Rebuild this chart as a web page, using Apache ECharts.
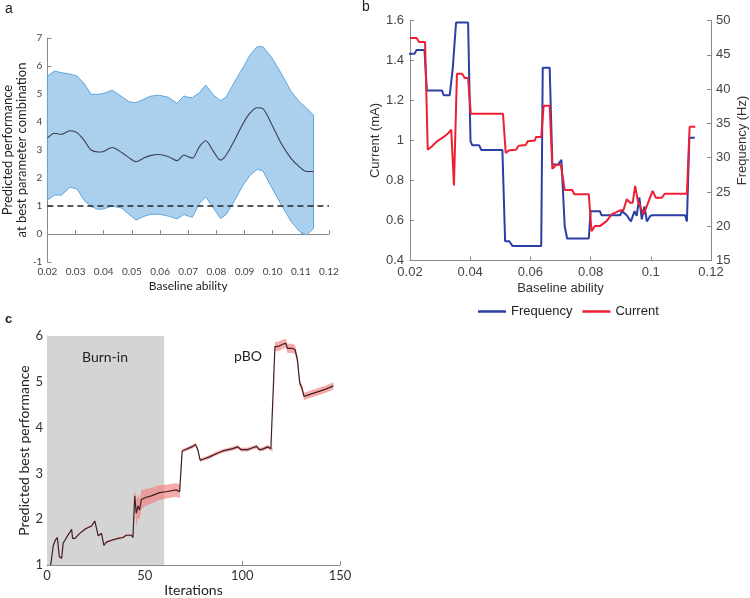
<!DOCTYPE html>
<html><head><meta charset="utf-8">
<script src="https://cdn.jsdelivr.net/npm/echarts@6/dist/echarts.min.js"></script>
<style>html,body{margin:0;padding:0;background:#fff}#c{width:750px;height:598px}</style>
</head><body><div id="c"></div>
<script>
// ---------- Panel a ----------
const aX = [0.0200,0.0225,0.0250,0.0280,0.0305,0.0330,0.0355,0.0380,0.0400,0.0430,0.0465,0.0490,0.0515,0.0540,0.0565,0.0595,0.0630,0.0660,0.0685,0.0700,0.0715,0.0740,0.0762,0.0790,0.0815,0.0835,0.0865,0.0895,0.0920,0.0945,0.0965,0.0995,0.1030,0.1065,0.1095,0.1120,0.1145];
const aMean = [3.42,3.60,3.56,3.69,3.62,3.35,3.00,2.93,2.95,3.09,2.90,2.72,2.58,2.70,2.80,2.84,2.76,2.62,2.82,2.76,2.71,3.12,3.33,2.94,2.64,2.82,3.36,3.95,4.33,4.51,4.48,3.95,3.24,2.70,2.40,2.23,2.23];
const aUpper = [5.64,5.82,5.76,5.71,5.64,5.38,4.99,4.99,5.02,5.14,4.90,4.72,4.69,4.80,4.92,4.96,4.88,4.67,4.93,4.88,4.87,5.05,5.32,4.96,4.76,4.90,5.44,5.95,6.40,6.69,6.69,6.33,5.74,5.10,4.72,4.50,4.25];
const aLower = [1.21,1.39,1.39,1.67,1.61,1.21,0.98,0.88,0.90,1.00,0.92,0.70,0.50,0.62,0.70,0.71,0.64,0.54,0.70,0.64,0.60,1.10,1.33,0.92,0.55,0.70,1.20,1.75,2.10,2.31,2.26,1.69,1.05,0.45,0.10,-0.04,0.20];
const aRefLine = [[0.02,1],[0.12,1]];

// ---------- Panel b ----------
const bFreqX = [0.0195,0.0215,0.0222,0.0248,0.0256,0.0306,0.0312,0.0332,0.0342,0.0353,0.0393,0.0401,0.0407,0.0430,0.0437,0.0507,0.0516,0.0530,0.0541,0.0636,0.0641,0.0664,0.0673,0.0692,0.0703,0.0708,0.0714,0.0722,0.0794,0.0800,0.0831,0.0836,0.0898,0.0904,0.0920,0.0934,0.0946,0.0953,0.0962,0.0970,0.0979,0.0987,0.0998,0.1005,0.1114,0.1120,0.1128,0.1146];
const bFreqY = [45.15,45.15,45.7,45.7,39.8,39.8,39.1,39.1,43.0,49.7,49.7,32.4,31.8,31.8,31.1,31.1,17.8,17.8,17.1,17.1,43.1,43.1,29.0,29.0,29.7,29.7,20.0,18.2,18.2,22.2,22.2,21.6,21.6,22.2,21.6,20.7,22.2,21.5,24.2,21.0,22.9,20.7,21.5,21.6,21.6,20.7,32.9,32.9];
const bCurX = [0.0200,0.0222,0.0230,0.0250,0.0259,0.0273,0.0290,0.0312,0.0328,0.0337,0.0346,0.0356,0.0373,0.0382,0.0393,0.0402,0.0509,0.0518,0.0530,0.0552,0.0561,0.0585,0.0591,0.0615,0.0619,0.0636,0.0644,0.0664,0.0673,0.0686,0.0701,0.0714,0.0739,0.0746,0.0794,0.0803,0.0814,0.0831,0.0853,0.0870,0.0898,0.0909,0.0920,0.0931,0.0940,0.0948,0.0957,0.0964,0.0976,0.0987,0.1006,0.1017,0.1037,0.1046,0.1120,0.1129,0.1148];
const bCurY = [1.512,1.512,1.492,1.492,0.954,0.971,0.996,1.018,1.038,1.054,0.775,1.334,1.334,1.312,1.312,1.134,1.134,0.938,0.951,0.954,0.974,0.978,0.996,1.000,1.018,1.018,1.174,1.174,0.858,0.879,0.879,0.753,0.753,0.731,0.731,0.547,0.572,0.572,0.597,0.631,0.651,0.651,0.706,0.689,0.689,0.773,0.698,0.673,0.631,0.673,0.748,0.714,0.714,0.734,0.734,1.069,1.069];

// ---------- Panel c ----------
const cIter = [1.9,3.2,4.1,5.3,6.3,7.5,8.3,10.0,11.5,12.6,13.1,14.3,16.8,19.4,21.1,22.8,24.5,26.2,27.9,29.1,30.4,33.0,36.4,38.9,40.6,43.2,44.0,44.9,45.7,46.6,47.4,48.3,50.8,53.4,57.6,61.0,66.1,67.9,69.2,70.4,74.7,76.0,77.2,78.4,80.6,83.2,86.6,90.0,95.1,97.6,99.3,102.7,105.3,107.3,108.7,110.4,113.0,114.6,115.5,116.7,118.9,120.6,122.3,123.1,125.7,127.0,128.2,129.4,130.4,131.6,134.2,139.3,142.7,146.6];
const cMean = [1.00,1.42,1.53,1.60,1.18,1.15,1.48,1.60,1.70,1.78,1.58,1.58,1.69,1.78,1.82,1.85,1.96,1.64,1.69,1.43,1.50,1.54,1.58,1.60,1.65,1.65,1.60,2.51,2.13,2.29,2.20,2.43,2.48,2.51,2.58,2.60,2.64,2.60,3.49,3.51,3.59,3.63,3.52,3.29,3.32,3.36,3.43,3.49,3.54,3.58,3.52,3.52,3.56,3.59,3.52,3.53,3.58,3.54,3.52,5.77,5.78,5.82,5.84,5.73,5.73,5.70,5.48,4.97,4.88,4.68,4.72,4.79,4.84,4.91];
const cErr  = [0.02,0.02,0.02,0.02,0.02,0.02,0.02,0.02,0.02,0.02,0.02,0.02,0.02,0.02,0.02,0.02,0.02,0.02,0.02,0.02,0.02,0.02,0.02,0.02,0.02,0.02,0.03,0.15,0.30,0.25,0.22,0.20,0.18,0.17,0.16,0.15,0.15,0.15,0.04,0.04,0.04,0.04,0.04,0.04,0.04,0.04,0.04,0.04,0.04,0.04,0.04,0.04,0.04,0.04,0.04,0.04,0.04,0.04,0.04,0.10,0.10,0.10,0.10,0.10,0.10,0.10,0.10,0.08,0.08,0.08,0.08,0.08,0.08,0.08];
const cBurnIn = [0, 60];

const pairs = (xs, ys) => xs.map((x, i) => [x, ys[i]]);

function bandSeries(xs, lo, hi, xi, yi, fill, stroke, z) {
  return {
    type: 'custom', xAxisIndex: xi, yAxisIndex: yi, z: z, silent: true,
    data: [[xs[0], lo[0]]],
    renderItem: function (params, api) {
      const pts = [];
      for (let i = 0; i < xs.length; i++) pts.push(api.coord([xs[i], hi[i]]));
      for (let i = xs.length - 1; i >= 0; i--) pts.push(api.coord([xs[i], lo[i]]));
      return { type: 'polygon', shape: { points: pts }, style: { fill: fill, stroke: stroke, lineWidth: stroke ? 1 : 0 } };
    }
  };
}

const cLo = cMean.map((m, i) => m - cErr[i]);
const cHi = cMean.map((m, i) => m + cErr[i]);

const fa = 'Lato', fb = 'Liberation Sans';
const grayAx = { lineStyle: { color: '#8a8a8a', width: 1 } };

const chart = echarts.init(document.getElementById('c'), null, { renderer: 'canvas' });
chart.setOption({
  animation: false,
  backgroundColor: '#fff',
  grid: [
    { left: 43, top: 38, width: 286, height: 224 },
    { left: 410, top: 20.5, width: 302, height: 240 },
    { left: 47, top: 336, width: 293, height: 230 }
  ],
  legend: {
    data: ['Frequency', 'Current'], left: 473, top: 300, icon: 'rect',
    itemWidth: 28, itemHeight: 2.5, itemGap: 10,
    textStyle: { fontFamily: fb, fontSize: 13, color: '#222' }
  },
  xAxis: [
    { gridIndex: 0, type: 'value', min: 0.02, max: 0.12, interval: 0.01,
      axisLine: grayAx, axisTick: { inside: true, length: 4, lineStyle: { color: '#8a8a8a' } }, splitLine: { show: false },
      axisLabel: { fontFamily: fa, fontSize: 10, color: '#444', margin: 5, formatter: v => v.toFixed(2) },
      name: 'Baseline ability', nameLocation: 'middle', nameGap: 18,
      nameTextStyle: { fontFamily: fa, fontSize: 12, color: '#222' } },
    { gridIndex: 1, type: 'value', min: 0.02, max: 0.12, interval: 0.02,
      axisLine: grayAx, axisTick: { inside: true, length: 4, lineStyle: { color: '#8a8a8a' } }, splitLine: { show: false },
      axisLabel: { fontFamily: fb, fontSize: 13, color: '#444', margin: 5 },
      name: 'Baseline ability', nameLocation: 'middle', nameGap: 21,
      nameTextStyle: { fontFamily: fb, fontSize: 13, color: '#333' } },
    { gridIndex: 2, type: 'value', min: 0, max: 150, interval: 50,
      axisLine: grayAx, axisTick: { inside: true, length: 4, lineStyle: { color: '#8a8a8a' } }, splitLine: { show: false },
      axisLabel: { fontFamily: fa, fontSize: 13, color: '#333', margin: 4 },
      name: 'Iterations', nameLocation: 'middle', nameGap: 18,
      nameTextStyle: { fontFamily: fa, fontSize: 14, color: '#222' } }
  ],
  yAxis: [
    { gridIndex: 0, type: 'value', min: -1, max: 7, interval: 1,
      axisLine: { show: true, lineStyle: { color: '#8a8a8a' } }, axisTick: { show: true, inside: true, length: 4, lineStyle: { color: '#8a8a8a' } }, splitLine: { show: false },
      axisLabel: { fontFamily: fa, fontSize: 10, color: '#444', margin: 5 },
      name: 'Predicted performance\nat best parameter combination', nameLocation: 'middle', nameGap: 13,
      nameTextStyle: { fontFamily: fa, fontSize: 13, color: '#222', lineHeight: 14 } },
    { gridIndex: 1, type: 'value', min: 0.4, max: 1.6, interval: 0.2, position: 'left',
      axisLine: { show: true, lineStyle: { color: '#8a8a8a' } }, axisTick: { show: true, inside: true, length: 4, lineStyle: { color: '#8a8a8a' } }, splitLine: { show: false },
      axisLabel: { fontFamily: fb, fontSize: 13, color: '#444', margin: 6 },
      name: 'Current (mA)', nameLocation: 'middle', nameGap: 27,
      nameTextStyle: { fontFamily: fb, fontSize: 13, color: '#333' } },
    { gridIndex: 1, type: 'value', min: 15, max: 50, interval: 5, position: 'right',
      axisLine: { show: true, lineStyle: { color: '#8a8a8a' } }, axisTick: { show: true, inside: true, length: 4, lineStyle: { color: '#8a8a8a' } }, splitLine: { show: false },
      axisLabel: { fontFamily: fb, fontSize: 13, color: '#444', margin: 5 },
      name: 'Frequency (Hz)', nameLocation: 'middle', nameGap: 25,
      nameTextStyle: { fontFamily: fb, fontSize: 13, color: '#333' } },
    { gridIndex: 2, type: 'value', min: 1, max: 6, interval: 1,
      axisLine: { show: true, lineStyle: { color: '#8a8a8a' } }, axisTick: { show: true, inside: true, length: 4, lineStyle: { color: '#8a8a8a' } }, splitLine: { show: false },
      axisLabel: { fontFamily: fa, fontSize: 13, color: '#333', margin: 4 },
      name: 'Predicted best performance', nameLocation: 'middle', nameGap: 15,
      nameTextStyle: { fontFamily: fa, fontSize: 14, color: '#222' } }
  ],
  series: [
    // panel a
    bandSeries(aX, aLower, aUpper, 0, 0, '#abd0ed', '#5fa6dd', 1),
    { type: 'line', xAxisIndex: 0, yAxisIndex: 0, data: aRefLine, symbol: 'none', z: 3,
      lineStyle: { color: '#222', width: 1.5, type: [6, 4] } },
    { type: 'line', xAxisIndex: 0, yAxisIndex: 0, data: pairs(aX, aMean), symbol: 'none', z: 4,
      smooth: 0.3, lineStyle: { color: '#3b3d4f', width: 1.1 } },
    // panel b
    { name: 'Frequency', type: 'line', xAxisIndex: 1, yAxisIndex: 2, data: pairs(bFreqX, bFreqY), symbol: 'none', z: 3,
      itemStyle: { color: '#2a3fa6' }, lineStyle: { color: '#2a3fa6', width: 2 } },
    { name: 'Current', type: 'line', xAxisIndex: 1, yAxisIndex: 1, data: pairs(bCurX, bCurY), symbol: 'none', z: 4,
      itemStyle: { color: '#ee1f33' }, lineStyle: { color: '#ee1f33', width: 2 } },
    // panel c
    { type: 'custom', xAxisIndex: 2, yAxisIndex: 3, z: 1, silent: true, data: [[cBurnIn[0], 6]],
      renderItem: function (params, api) {
        const p1 = api.coord([cBurnIn[0], 6]);
        const p2 = api.coord([cBurnIn[1], 1]);
        return { type: 'rect', shape: { x: p1[0], y: p1[1], width: p2[0] - p1[0], height: p2[1] - p1[1] }, style: { fill: '#d4d4d4' } };
      } },
    bandSeries(cIter, cLo, cHi, 2, 3, 'rgba(242,125,125,0.65)', null, 2),
    { type: 'line', xAxisIndex: 2, yAxisIndex: 3, data: pairs(cIter, cMean), symbol: 'none', z: 4,
      lineStyle: { color: '#3f1f22', width: 1.2 } }
  ],
  graphic: [
    { type: 'text', left: 5, top: 2, style: { text: 'a', font: '14px "Liberation Sans"', fill: '#222' } },
    { type: 'text', left: 362, top: 0, style: { text: 'b', font: '14px "Liberation Sans"', fill: '#222' } },
    { type: 'text', left: 5, top: 313, style: { text: 'c', font: 'bold 13px "Liberation Sans"', fill: '#222' } },
    { type: 'text', x: 105, y: 357, style: { text: 'Burn-in', font: '14px Lato', fill: '#222', textAlign: 'center', textVerticalAlign: 'middle' }, z: 10 },
    { type: 'text', x: 248, y: 356, style: { text: 'pBO', font: '14px Lato', fill: '#222', textAlign: 'center', textVerticalAlign: 'middle' }, z: 10 }
  ]
});
</script>
</body></html>
